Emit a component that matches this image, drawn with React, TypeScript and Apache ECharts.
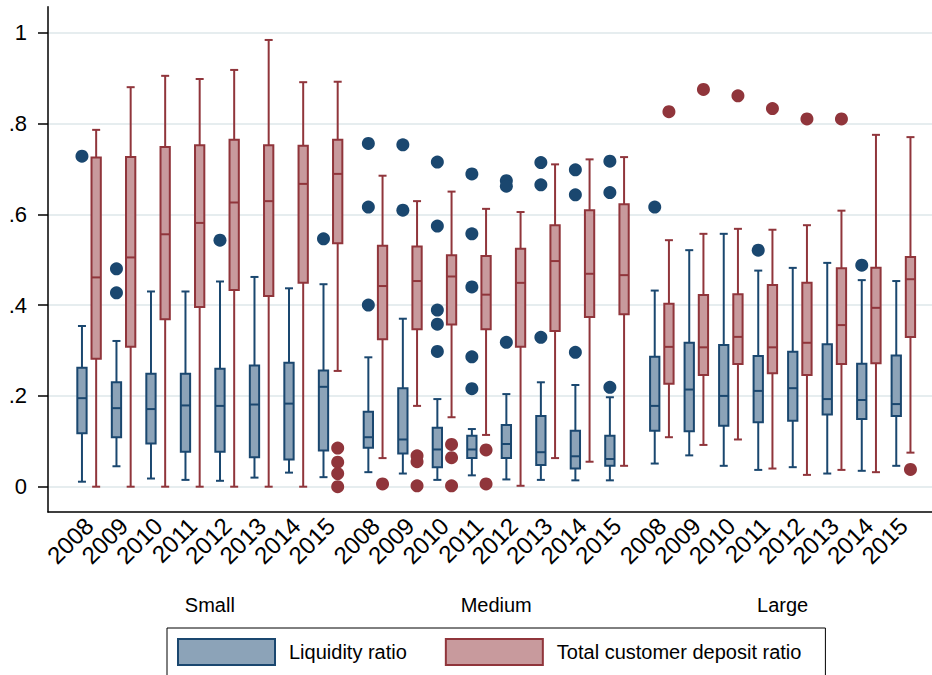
import { useEffect, useRef } from 'react';
import * as echarts from 'echarts';

const FONT = '"Liberation Sans", Arial, Helvetica, sans-serif';

const years = ['2008', '2009', '2010', '2011', '2012', '2013', '2014', '2015'];
const groups = ['Small', 'Medium', 'Large'];
const yTicks = [0, 0.2, 0.4, 0.6, 0.8, 1];

// One row per group/year: [lower whisker, Q1, median, Q3, upper whisker]
const liquidityBoxes = [
  [0.011, 0.118, 0.195, 0.262, 0.354],
  [0.045, 0.109, 0.173, 0.230, 0.321],
  [0.018, 0.095, 0.171, 0.249, 0.430],
  [0.015, 0.077, 0.179, 0.249, 0.430],
  [0.013, 0.077, 0.178, 0.260, 0.452],
  [0.020, 0.065, 0.181, 0.267, 0.462],
  [0.031, 0.060, 0.183, 0.273, 0.437],
  [0.021, 0.080, 0.220, 0.256, 0.446],
  [0.032, 0.086, 0.109, 0.165, 0.285],
  [0.029, 0.073, 0.104, 0.217, 0.370],
  [0.015, 0.043, 0.082, 0.130, 0.193],
  [0.025, 0.063, 0.082, 0.112, 0.127],
  [0.016, 0.063, 0.094, 0.136, 0.204],
  [0.015, 0.048, 0.076, 0.156, 0.230],
  [0.014, 0.040, 0.067, 0.123, 0.224],
  [0.014, 0.046, 0.061, 0.112, 0.197],
  [0.051, 0.123, 0.178, 0.286, 0.432],
  [0.069, 0.122, 0.214, 0.317, 0.521],
  [0.046, 0.134, 0.200, 0.312, 0.557],
  [0.037, 0.142, 0.211, 0.288, 0.476],
  [0.043, 0.145, 0.217, 0.297, 0.482],
  [0.029, 0.159, 0.193, 0.314, 0.493],
  [0.035, 0.149, 0.191, 0.271, 0.455],
  [0.046, 0.156, 0.182, 0.289, 0.453],
];

const depositBoxes = [
  [0.000, 0.282, 0.461, 0.725, 0.786],
  [0.000, 0.308, 0.505, 0.726, 0.880],
  [0.000, 0.369, 0.556, 0.748, 0.905],
  [0.000, 0.396, 0.581, 0.752, 0.898],
  [0.000, 0.433, 0.626, 0.764, 0.918],
  [0.000, 0.420, 0.629, 0.752, 0.984],
  [0.000, 0.449, 0.667, 0.751, 0.891],
  [0.255, 0.536, 0.689, 0.764, 0.892],
  [0.063, 0.325, 0.442, 0.531, 0.685],
  [0.178, 0.347, 0.453, 0.529, 0.629],
  [0.153, 0.357, 0.463, 0.510, 0.650],
  [0.114, 0.347, 0.423, 0.508, 0.612],
  [0.002, 0.308, 0.449, 0.524, 0.605],
  [0.063, 0.343, 0.497, 0.576, 0.710],
  [0.055, 0.374, 0.469, 0.609, 0.721],
  [0.046, 0.380, 0.466, 0.622, 0.726],
  [0.109, 0.227, 0.308, 0.403, 0.543],
  [0.092, 0.246, 0.307, 0.422, 0.557],
  [0.104, 0.270, 0.330, 0.424, 0.568],
  [0.040, 0.250, 0.307, 0.444, 0.566],
  [0.026, 0.246, 0.317, 0.449, 0.576],
  [0.037, 0.270, 0.356, 0.481, 0.608],
  [0.032, 0.272, 0.394, 0.482, 0.775],
  [0.075, 0.330, 0.457, 0.506, 0.770],
];

// Outside values: [box index, value]
const liquidityOutliers = [
  [0, 0.728], [1, 0.480], [1, 0.427], [4, 0.543], [7, 0.546],
  [8, 0.756], [8, 0.616], [8, 0.400],
  [9, 0.753], [9, 0.609],
  [10, 0.715], [10, 0.574], [10, 0.389], [10, 0.358], [10, 0.298],
  [11, 0.689], [11, 0.557], [11, 0.440], [11, 0.286], [11, 0.216],
  [12, 0.674], [12, 0.662], [12, 0.318],
  [13, 0.714], [13, 0.665], [13, 0.329],
  [14, 0.698], [14, 0.643], [14, 0.296],
  [15, 0.717], [15, 0.648], [15, 0.219],
  [16, 0.616], [19, 0.521], [22, 0.488],
];

const depositOutliers = [
  [7, 0.085], [7, 0.054], [7, 0.029], [7, 0.000],
  [8, 0.006],
  [9, 0.068], [9, 0.055], [9, 0.002],
  [10, 0.093], [10, 0.064], [10, 0.002],
  [11, 0.081], [11, 0.006],
  [16, 0.826], [17, 0.875], [18, 0.861], [19, 0.833], [20, 0.810], [21, 0.810],
  [23, 0.038],
];

const NAVY = '#1a476f';
const NAVY_FILL = '#8ca3b8';
const MAROON = '#90353b';
const MAROON_FILL = '#c89a9d';
const GRID_COLOR = '#e6edef';

// x layout: one unit per year, with a little extra room between size groups
const GROUP_STRIDE = 8.3;
const BOX_COUNT = groups.length * years.length;
const slot = (i: number) => Math.floor(i / years.length) * GROUP_STRIDE + (i % years.length);
const yearSlots = Array.from({ length: BOX_COUNT }, (_, i) => slot(i));
const groupCentres = groups.map((_, g) => g * GROUP_STRIDE + (years.length - 1) / 2);
const X_MIN = -1.19;
const X_MAX = 24.43;

const PAIR_OFFSET = 7.1; // px from the slot centre to each box
const BOX_W = 9.3;
const CAP_HALF = 4;
const LINE_W = 2;

function boxRenderer(offset: number, stroke: string, fill: string) {
  return (_params: any, api: any) => {
    const x = api.value(0);
    const low = api.coord([x, api.value(1)]);
    const q1 = api.coord([x, api.value(2)])[1];
    const med = api.coord([x, api.value(3)])[1];
    const q3 = api.coord([x, api.value(4)])[1];
    const high = api.coord([x, api.value(5)])[1];
    const cx = low[0] + offset;
    const yLow = low[1];
    const lineStyle = { stroke, lineWidth: LINE_W, fill: 'none' };
    return {
      type: 'group',
      children: [
        { type: 'line', shape: { x1: cx, y1: yLow, x2: cx, y2: q1 }, style: lineStyle },
        { type: 'line', shape: { x1: cx, y1: q3, x2: cx, y2: high }, style: lineStyle },
        { type: 'line', shape: { x1: cx - CAP_HALF, y1: yLow, x2: cx + CAP_HALF, y2: yLow }, style: lineStyle },
        { type: 'line', shape: { x1: cx - CAP_HALF, y1: high, x2: cx + CAP_HALF, y2: high }, style: lineStyle },
        {
          type: 'rect',
          shape: { x: cx - BOX_W / 2, y: q3, width: BOX_W, height: q1 - q3 },
          style: { fill, stroke, lineWidth: LINE_W },
        },
        { type: 'line', shape: { x1: cx - BOX_W / 2, y1: med, x2: cx + BOX_W / 2, y2: med }, style: lineStyle },
      ],
    };
  };
}

function findSlotIndex(v: number) {
  for (let i = 0; i < BOX_COUNT; i++) {
    if (Math.abs(slot(i) - v) < 1e-6) return i;
  }
  return -1;
}

export default function App() {
  const ref = useRef<HTMLDivElement>(null);

  useEffect(() => {
    if (!ref.current) return;
    const chart = echarts.init(ref.current, undefined, { renderer: 'svg' });

    const hidden = { show: false };
    const option: any = {
      animation: false,
      backgroundColor: '#ffffff',
      textStyle: { fontFamily: FONT },
      grid: [
        { left: 48, right: 0, top: 32.7, bottom: 188.3 },
        { left: 48, right: 0, top: 6.7, bottom: 163 },
      ],
      xAxis: [
        {
          gridIndex: 0,
          type: 'value',
          min: X_MIN,
          max: X_MAX,
          position: 'bottom',
          axisLine: { show: false, onZero: false },
          axisTick: hidden,
          splitLine: hidden,
          axisLabel: {
            customValues: yearSlots,
            rotate: 45,
            margin: 35,
            fontSize: 24,
            color: '#000',
            fontFamily: FONT,
            formatter: (v: number) => {
              const i = findSlotIndex(v);
              return i >= 0 ? years[i % years.length] : '';
            },
          },
        },
        {
          gridIndex: 0,
          type: 'value',
          min: X_MIN,
          max: X_MAX,
          position: 'bottom',
          axisLine: { show: false, onZero: false },
          axisTick: hidden,
          splitLine: hidden,
          axisLabel: {
            customValues: groupCentres,
            margin: 108,
            fontSize: 20,
            color: '#000',
            fontFamily: FONT,
            formatter: (v: number) => {
              const g = groupCentres.findIndex((c) => Math.abs(c - v) < 1e-6);
              return g >= 0 ? groups[g] : '';
            },
          },
        },
        {
          gridIndex: 1,
          type: 'value',
          min: 0,
          max: 1,
          axisLine: { show: true, onZero: false, lineStyle: { color: '#000', width: 1.5 } },
          axisTick: hidden,
          axisLabel: hidden,
          splitLine: hidden,
        },
      ],
      yAxis: [
        {
          gridIndex: 0,
          type: 'value',
          min: 0,
          max: 1,
          interval: 0.2,
          axisLine: { show: false, onZero: false },
          axisTick: {
            show: true,
            length: 10,
            customValues: yTicks,
            lineStyle: { color: '#000', width: 1.5 },
          },
          splitLine: { show: true, lineStyle: { color: GRID_COLOR, width: 2 } },
          axisLabel: {
            customValues: yTicks,
            margin: 21,
            fontSize: 22,
            color: '#000',
            fontFamily: FONT,
            formatter: (v: number) => {
              if (Math.abs(v) < 1e-9) return '0';
              if (Math.abs(v - 1) < 1e-9) return '1';
              return v.toFixed(1).replace(/^0/, '');
            },
          },
        },
        {
          gridIndex: 1,
          type: 'value',
          min: 0,
          max: 1,
          axisLine: { show: true, onZero: false, lineStyle: { color: '#000', width: 1.5 } },
          axisTick: hidden,
          axisLabel: hidden,
          splitLine: hidden,
        },
      ],
      legend: {
        left: 167,
        top: 628,
        orient: 'horizontal',
        padding: [10, 24, 10, 10],
        itemWidth: 97,
        itemHeight: 26,
        itemGap: 38,
        borderColor: '#000',
        borderWidth: 1,
        selectedMode: false,
        textStyle: { fontSize: 20, color: '#000', fontFamily: FONT, padding: [0, 0, 0, 9] },
        data: [
          {
            name: 'Liquidity ratio',
            icon: 'rect',
            itemStyle: { color: NAVY_FILL, borderColor: NAVY, borderWidth: 2 },
          },
          {
            name: 'Total customer deposit ratio',
            icon: 'rect',
            itemStyle: { color: MAROON_FILL, borderColor: MAROON, borderWidth: 2 },
          },
        ],
      },
      series: [
        {
          name: 'Liquidity ratio',
          type: 'custom',
          xAxisIndex: 0,
          yAxisIndex: 0,
          z: 3,
          itemStyle: { color: NAVY_FILL, borderColor: NAVY },
          encode: { x: 0, y: [1, 2, 3, 4, 5] },
          data: liquidityBoxes.map((b, i) => [slot(i), ...b]),
          renderItem: boxRenderer(-PAIR_OFFSET, NAVY, NAVY_FILL),
        },
        {
          name: 'Total customer deposit ratio',
          type: 'custom',
          xAxisIndex: 0,
          yAxisIndex: 0,
          z: 3,
          itemStyle: { color: MAROON_FILL, borderColor: MAROON },
          encode: { x: 0, y: [1, 2, 3, 4, 5] },
          data: depositBoxes.map((b, i) => [slot(i), ...b]),
          renderItem: boxRenderer(PAIR_OFFSET, MAROON, MAROON_FILL),
        },
        {
          name: 'Liquidity ratio outside values',
          type: 'scatter',
          xAxisIndex: 0,
          yAxisIndex: 0,
          z: 4,
          clip: false,
          symbol: 'circle',
          symbolSize: 13,
          symbolOffset: [-PAIR_OFFSET, 0],
          itemStyle: { color: NAVY, opacity: 1 },
          data: liquidityOutliers.map(([i, v]) => [slot(i), v]),
        },
        {
          name: 'Total customer deposit ratio outside values',
          type: 'scatter',
          xAxisIndex: 0,
          yAxisIndex: 0,
          z: 4,
          clip: false,
          symbol: 'circle',
          symbolSize: 13,
          symbolOffset: [PAIR_OFFSET, 0],
          itemStyle: { color: MAROON, opacity: 1 },
          data: depositOutliers.map(([i, v]) => [slot(i), v]),
        },
      ],
    };

    chart.setOption(option);
    return () => chart.dispose();
  }, []);

  return (
    <div
      ref={ref}
      style={{ position: 'absolute', left: 0, top: 0, width: 932, height: 675, background: '#fff' }}
    />
  );
}
